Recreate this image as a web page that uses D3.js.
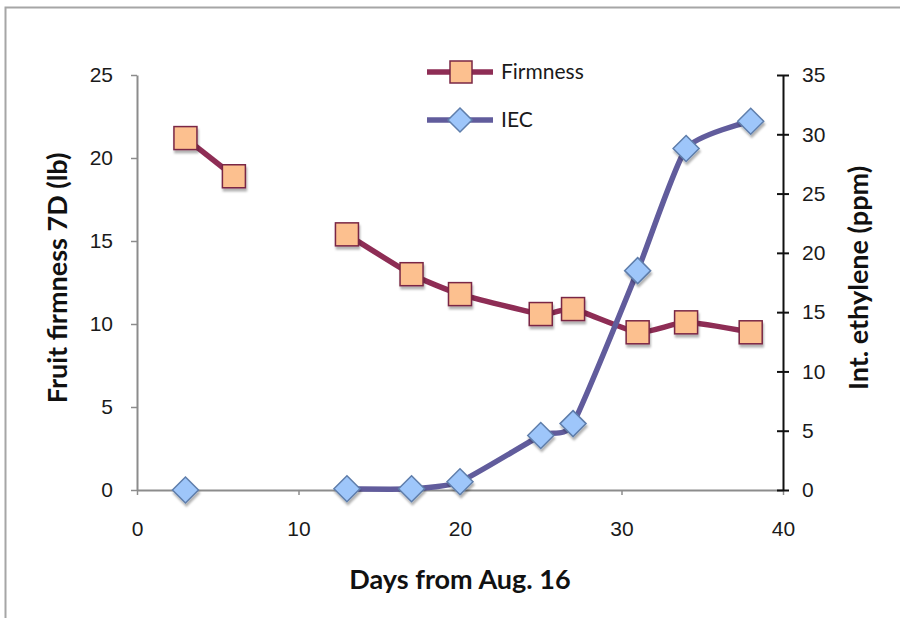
<!DOCTYPE html>
<html>
<head>
<meta charset="utf-8">
<script src="https://cdn.jsdelivr.net/npm/d3@7"></script>
<style>
  html, body { margin: 0; padding: 0; background: #fff; overflow: hidden; }
  svg { display: block; font-family: Lato, "Open Sans", sans-serif; }
</style>
</head>
<body>
<svg id="chart" width="900" height="618"></svg>
<script>
// Sampling days (days from Aug. 16)
const days = [3, 6, 13, 17, 20, 25, 27, 31, 34, 38];
// Fruit firmness, 7D (lb)
const firmness = [21.2, 18.9, 15.4, 13.0, 11.8, 10.6, 10.9, 9.5, 10.1, 9.5];
// Internal ethylene concentration (ppm); no reading on day 6
const iec = [0, null, 0.1, 0.1, 0.7, 4.6, 5.6, 18.5, 28.8, 31.1];

const xTicks = [0, 10, 20, 30, 40];
const yLeftTicks = [0, 5, 10, 15, 20, 25];
const yRightTicks = [0, 5, 10, 15, 20, 25, 30, 35];

const svg = d3.select("#chart");

// chart frame
svg.append("rect")
  .attr("x", 5.5).attr("y", 7.5)
  .attr("width", 920).attr("height", 640)
  .attr("fill", "#fff").attr("stroke", "#a6a6a6").attr("stroke-width", 2);

const plot = { left: 137, right: 783, top: 75, bottom: 490 };

const x = d3.scaleLinear().domain([0, 40]).range([plot.left, plot.right]);
const yL = d3.scaleLinear().domain([0, 25]).range([plot.bottom, plot.top]);
const yR = d3.scaleLinear().domain([0, 35]).range([plot.bottom, plot.top]);

// drop shadow for markers
const defs = svg.append("defs");
const f = defs.append("filter").attr("id", "shadow")
  .attr("x", "-50%").attr("y", "-50%").attr("width", "200%").attr("height", "200%");
f.append("feDropShadow").attr("dx", 1).attr("dy", 3).attr("stdDeviation", 1.2)
  .attr("flood-color", "#000").attr("flood-opacity", 0.3);

const tickFont = 21;
const textColor = "#1a1a1a";

// x axis (gray)
const gx = svg.append("g").attr("transform", `translate(0,${plot.bottom})`)
  .call(d3.axisBottom(x).tickValues(xTicks).tickSize(5).tickSizeOuter(0).tickPadding(26));
gx.select(".domain").attr("stroke", "#8c8c8c").attr("stroke-width", 2);
gx.selectAll(".tick line").attr("stroke", "#8c8c8c").attr("stroke-width", 1.5);
gx.selectAll("text").attr("font-size", tickFont).attr("fill", textColor);

// left axis (gray)
const gl = svg.append("g").attr("transform", `translate(${plot.left},0)`)
  .call(d3.axisLeft(yL).tickValues(yLeftTicks).tickSize(6).tickSizeOuter(0).tickPadding(18));
gl.select(".domain").attr("stroke", "#8c8c8c").attr("stroke-width", 2);
gl.selectAll(".tick line").attr("stroke", "#8c8c8c").attr("stroke-width", 1.5);
gl.selectAll("text").attr("font-size", tickFont).attr("fill", textColor);

// right axis (black, crossing ticks)
const gr = svg.append("g").attr("transform", `translate(${plot.right},0)`)
  .call(d3.axisRight(yR).tickValues(yRightTicks).tickSize(6).tickSizeOuter(0).tickPadding(13));
gr.select(".domain").attr("stroke", "#111").attr("stroke-width", 2);
gr.selectAll(".tick line").attr("x1", -6).attr("stroke", "#111").attr("stroke-width", 2);
gr.selectAll("text").attr("font-size", tickFont).attr("fill", textColor);

// axis titles
const titleFont = 27;
svg.append("text").attr("x", 460).attr("y", 589).attr("text-anchor", "middle")
  .attr("font-size", titleFont).attr("font-weight", "bold").attr("fill", "#111")
  .text("Days from Aug. 16");
svg.append("text").attr("transform", "translate(67,278) rotate(-90)")
  .attr("text-anchor", "middle").attr("font-size", titleFont).attr("font-weight", "bold").attr("fill", "#111")
  .text("Fruit firmness 7D (lb)");
svg.append("text").attr("transform", "translate(868,278) rotate(-90)")
  .attr("text-anchor", "middle").attr("font-size", titleFont).attr("font-weight", "bold").attr("fill", "#111")
  .text("Int. ethylene (ppm)");

const firmColor = "#8e2d55", firmFill = "#fcc08f", firmEdge = "#7a2745";
const iecColor = "#615c9c", iecFill = "#9ec6fa", iecEdge = "#5f7eab";

const firmData = days.map((d, i) => ({ d, v: firmness[i] }));
const iecData = days.map((d, i) => ({ d, v: iec[i] }));

// smoothed series lines
const curve = d3.curveCardinal.tension(0.45);

// firmness line (break between day 6 and day 13)
const firmLine = d3.line().x(p => x(p.d)).y(p => yL(p.v)).curve(curve);
[firmData.filter(p => p.d <= 6), firmData.filter(p => p.d >= 13)].forEach(seg => {
  svg.append("path").datum(seg).attr("d", firmLine)
    .attr("fill", "none").attr("stroke", firmColor).attr("stroke-width", 5.5)
    .attr("stroke-linejoin", "round");
});

// IEC line (first reading stands alone)
const iecLine = d3.line().x(p => x(p.d)).y(p => yR(p.v)).curve(curve);
svg.append("path").datum(iecData.filter(p => p.d >= 13 && p.v != null)).attr("d", iecLine)
  .attr("fill", "none").attr("stroke", iecColor).attr("stroke-width", 5.5)
  .attr("stroke-linejoin", "round");

// markers
const sq = 23;
svg.append("g").selectAll("rect").data(firmData).join("rect")
  .attr("x", p => x(p.d) - sq / 2).attr("y", p => yL(p.v) - sq / 2)
  .attr("width", sq).attr("height", sq)
  .attr("fill", firmFill).attr("stroke", firmEdge).attr("stroke-width", 1.5)
  .attr("filter", "url(#shadow)");

const dm = 13;
const diamond = `M0,${-dm}L${dm},0L0,${dm}L${-dm},0Z`;
svg.append("g").selectAll("path").data(iecData.filter(p => p.v != null)).join("path")
  .attr("transform", p => `translate(${x(p.d)},${yR(p.v)})`)
  .attr("d", diamond)
  .attr("fill", iecFill).attr("stroke", iecEdge).attr("stroke-width", 1.5)
  .attr("filter", "url(#shadow)");

// legend
const legend = svg.append("g");
const legendItems = [
  { name: "Firmness", y: 72, color: firmColor, kind: "square" },
  { name: "IEC", y: 120, color: iecColor, kind: "diamond" }
];
legendItems.forEach(it => {
  legend.append("line").attr("x1", 427).attr("x2", 493).attr("y1", it.y).attr("y2", it.y)
    .attr("stroke", it.color).attr("stroke-width", 5.5);
  if (it.kind === "square") {
    legend.append("rect").attr("x", 461 - 11).attr("y", it.y - 11).attr("width", 22).attr("height", 22)
      .attr("fill", firmFill).attr("stroke", firmEdge).attr("stroke-width", 1.5);
  } else {
    legend.append("path").attr("transform", `translate(460,${it.y})`)
      .attr("d", "M0,-12L12,0L0,12L-12,0Z")
      .attr("fill", iecFill).attr("stroke", iecEdge).attr("stroke-width", 1.5);
  }
  legend.append("text").attr("x", 501).attr("y", it.y + 7)
    .attr("font-size", tickFont).attr("fill", textColor).text(it.name);
});
</script>
</body>
</html>
